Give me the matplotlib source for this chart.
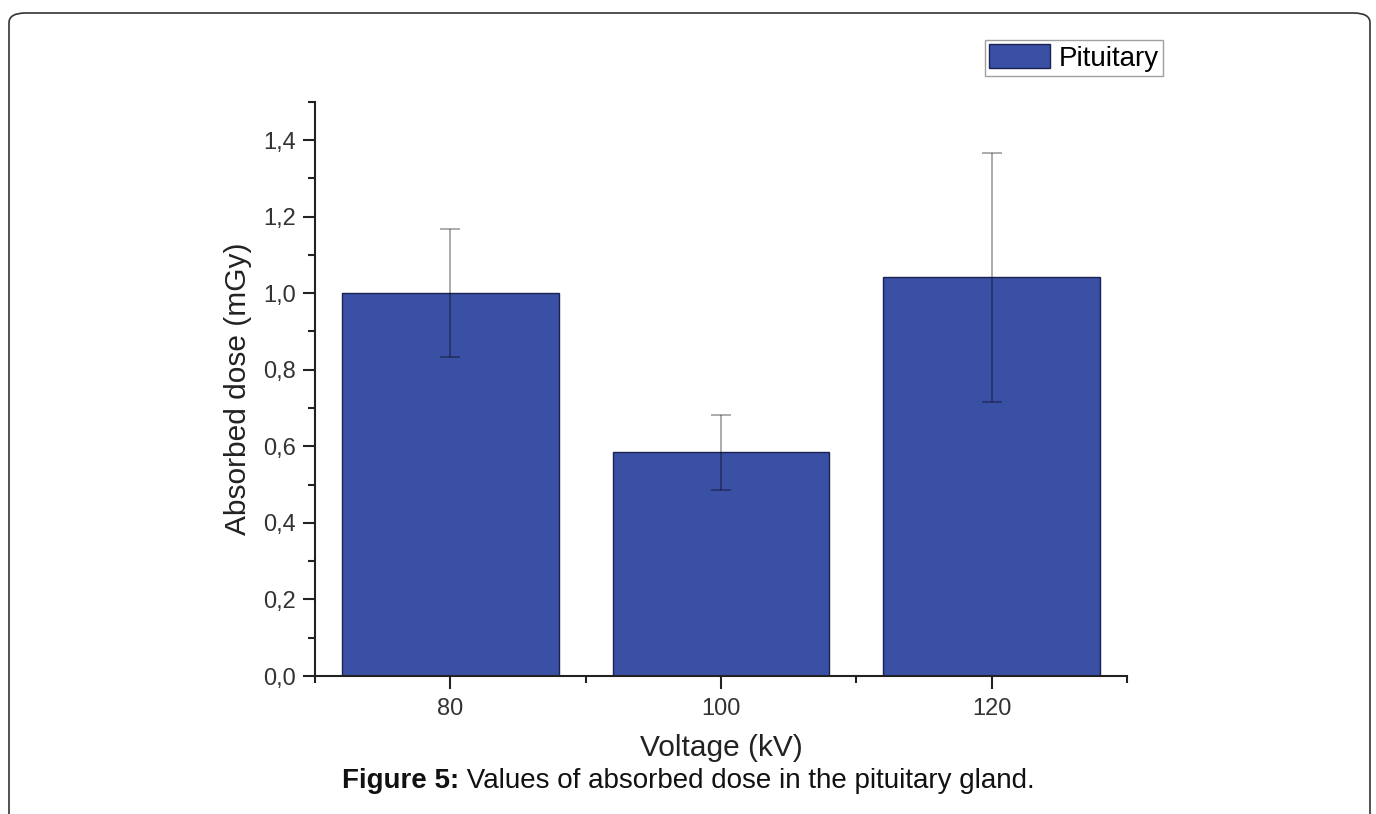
import matplotlib
matplotlib.use("Agg")
import matplotlib.pyplot as plt
from matplotlib.patches import FancyBboxPatch
from matplotlib.ticker import FixedLocator, MultipleLocator, FuncFormatter

# data
voltages = [80, 100, 120]
dose = [1.00, 0.585, 1.041]
dose_err = [0.168, 0.098, 0.326]
series_name = "Pituitary"

BAR_COLOR = "#3a50a5"
EDGE_COLOR = "#1b2250"

plt.rcParams["font.family"] = ["Liberation Sans", "DejaVu Sans"]

fig = plt.figure(figsize=(13.76, 8.14), dpi=100)
ax = fig.add_axes([0.2289, 0.1695, 0.819 - 0.2289, 0.875 - 0.1695])

ax.bar(voltages, dose, width=16, color=BAR_COLOR, edgecolor=EDGE_COLOR,
       linewidth=1.0, label=series_name, zorder=2)
ax.errorbar(voltages, dose, yerr=dose_err, fmt="none", ecolor="black", alpha=0.35,
            elinewidth=1.3, capsize=7, capthick=1.3, zorder=3)

ax.set_xlim(70, 130)
ax.set_ylim(0, 1.5)
ax.xaxis.set_major_locator(FixedLocator(voltages))
ax.xaxis.set_minor_locator(FixedLocator([70, 90, 110, 130]))
ax.yaxis.set_major_locator(FixedLocator([0, 0.2, 0.4, 0.6, 0.8, 1.0, 1.2, 1.4]))
ax.yaxis.set_minor_locator(MultipleLocator(0.1))
ax.yaxis.set_major_formatter(FuncFormatter(lambda v, _: f"{v:.1f}".replace(".", ",")))

for side in ("top", "right"):
    ax.spines[side].set_visible(False)
for side in ("left", "bottom"):
    ax.spines[side].set_linewidth(1.5)
    ax.spines[side].set_color("#222222")

ax.tick_params(axis="both", which="major", direction="out", length=9, width=1.5,
               color="#222222", labelsize=17, labelcolor="#333333")
ax.tick_params(axis="both", which="minor", direction="out", length=5, width=1.5,
               color="#222222")
ax.tick_params(axis="x", pad=7)
ax.tick_params(axis="y", pad=5)

ax.set_xlabel("Voltage (kV)", fontsize=21.5, color="#222222", labelpad=10)
ax.set_ylabel("Absorbed dose (mGy)", fontsize=21.5, color="#222222", labelpad=8)

leg = ax.legend(loc="upper right", bbox_to_anchor=(1163 / 1376, 1 - 40 / 814),
                bbox_transform=fig.transFigure, fontsize=20, frameon=True,
                fancybox=False, handlelength=2.2, handleheight=0.95,
                borderpad=0.15, handletextpad=0.3, borderaxespad=0)
leg.get_frame().set_edgecolor("#888888")
leg.get_frame().set_linewidth(1.0)

# caption: bold "Figure 5:" followed by regular text, centred as a whole
cap_y = 1 - 781 / 814
cap_bold = fig.text(0, cap_y, "Figure 5:", fontsize=20, fontweight="bold",
                    color="#111111", va="center")
cap_rest = fig.text(0, cap_y, " Values of absorbed dose in the pituitary gland.",
                    fontsize=20, color="#111111", va="center")
fig.canvas.draw()
r = fig.canvas.get_renderer()
wb = cap_bold.get_window_extent(r).width
wr = cap_rest.get_window_extent(r).width
x0 = (fig.bbox.width - wb - wr) / 2
cap_bold.set_x(x0 / fig.bbox.width)
cap_rest.set_x((x0 + wb) / fig.bbox.width)

# rounded frame around the figure (open at the bottom)
frame = FancyBboxPatch((9 / 1376, -0.05), (1370 - 9) / 1376, 1 - 13 / 814 + 0.05,
                       boxstyle="round,pad=0,rounding_size=0.012",
                       transform=fig.transFigure, fill=False,
                       edgecolor="#333333", linewidth=1.2, clip_on=False)
fig.patches.append(frame)

fig.savefig("out.png", dpi=100)
